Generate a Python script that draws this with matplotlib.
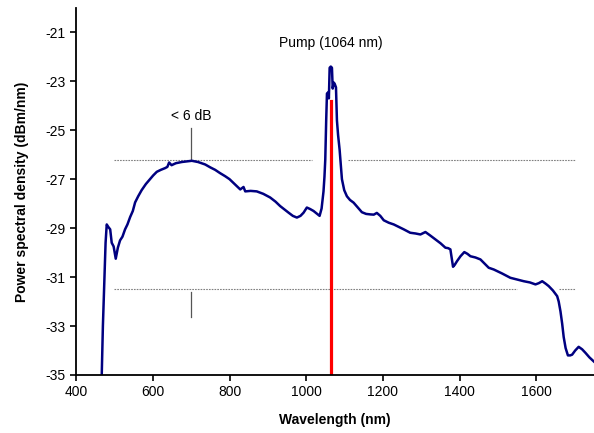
import matplotlib.pyplot as plt

plt.rcParams['font.family'] = ['Liberation Sans', 'DejaVu Sans']
plt.rcParams['axes.unicode_minus'] = False

# spectrum
wavelength = [467, 470, 474, 477, 480, 484, 489, 493, 498, 503.5, 509, 514.8, 521, 527.8, 534,
              541, 548, 554, 562, 571, 582, 593, 601, 610.5, 621, 632, 638, 642.6, 646, 649,
              660, 675.5, 690, 701.8, 718, 736.5, 750, 762.6, 775, 788.7, 800, 810, 820, 828,
              836.5, 841, 855, 871, 888, 906, 920, 932, 944, 954, 965, 975.6, 985, 993,
              1001.6, 1010, 1019, 1027, 1034.8, 1040, 1045, 1047.5, 1049.6, 1052, 1054,
              1057.6, 1059, 1061, 1064, 1067, 1069, 1071.5, 1074, 1077.5, 1080, 1083,
              1087, 1090, 1093, 1099, 1106, 1114, 1123.4, 1134, 1145, 1156, 1167, 1176,
              1184, 1193, 1202, 1215, 1228, 1241, 1254, 1271, 1285, 1297.6, 1310.6, 1323,
              1336.6, 1350, 1362.7, 1370, 1375.7, 1379, 1382.6, 1387, 1393, 1402, 1412,
              1420, 1428, 1441, 1454, 1465, 1475.6, 1488.6, 1510, 1532, 1550, 1567, 1583,
              1597.5, 1606, 1615, 1624, 1632, 1643, 1654, 1658, 1662.6, 1667, 1671, 1676,
              1682, 1688, 1693, 1701, 1710, 1719, 1728, 1738, 1749.6]
power = [-35.0, -33.0, -31.0, -29.6, -28.85, -28.95, -29.05, -29.6, -29.75, -30.25, -29.8,
         -29.5, -29.35, -29.05, -28.85, -28.55, -28.3, -27.95, -27.7, -27.45, -27.2, -27.0,
         -26.85, -26.7, -26.62, -26.55, -26.5, -26.32, -26.38, -26.43, -26.35, -26.3,
         -26.27, -26.25, -26.3, -26.4, -26.52, -26.62, -26.75, -26.88, -27.0, -27.15,
         -27.3, -27.42, -27.32, -27.5, -27.48, -27.5, -27.6, -27.75, -27.92, -28.1, -28.25,
         -28.37, -28.5, -28.57, -28.5, -28.37, -28.16, -28.22, -28.3, -28.4, -28.5, -28.2,
         -27.5, -26.9, -26.2, -24.6, -23.5, -23.45, -23.7, -22.45, -22.4, -22.45, -23.3,
         -23.05, -23.1, -23.25, -24.6, -25.2, -25.8, -26.4, -27.0, -27.45, -27.7, -27.85,
         -27.96, -28.15, -28.35, -28.42, -28.44, -28.45, -28.38, -28.5, -28.68, -28.78,
         -28.85, -28.95, -29.05, -29.19, -29.22, -29.26, -29.16, -29.3, -29.46, -29.62,
         -29.8, -29.82, -29.87, -30.2, -30.58, -30.5, -30.35, -30.15, -29.98, -30.05,
         -30.15, -30.2, -30.28, -30.45, -30.62, -30.69, -30.85, -31.03, -31.1, -31.17,
         -31.22, -31.3, -31.25, -31.17, -31.27, -31.37, -31.55, -31.78, -32.0, -32.4,
         -32.9, -33.45, -33.9, -34.2, -34.2, -34.17, -34.0, -33.85, -33.95, -34.1, -34.28,
         -34.45]

pump_wavelength = 1064
pump_top = -23.8

upper_level = -26.2
lower_level = -31.5
upper_segments = [(500, 1015), (1110, 1700)]
lower_segments = [(500, 1550), (1660, 1700)]

x_ticks = [400, 600, 800, 1000, 1200, 1400, 1600]
y_ticks = [-35, -33, -31, -29, -27, -25, -23, -21]


def main():
    fig = plt.figure(figsize=(5.94, 4.33), dpi=100)
    ax = fig.add_axes([0.128, 0.134, 0.872, 0.848])

    for start, end in upper_segments:
        ax.plot([start, end], [upper_level, upper_level], color='#808080',
                linestyle=(0, (1.5, 1)), linewidth=0.8)
    for start, end in lower_segments:
        ax.plot([start, end], [lower_level, lower_level], color='#808080',
                linestyle=(0, (1.5, 1)), linewidth=0.8)
    ax.plot([700, 700], [-24.9, upper_level], color='#555555', linewidth=0.9)
    ax.plot([700, 700], [-31.6, -32.65], color='#555555', linewidth=0.9)

    ax.plot(wavelength, power, color='#000080', linewidth=1.8)
    ax.plot([pump_wavelength, pump_wavelength], [-35, pump_top], color='#ff0000',
            linewidth=2.3)

    ax.text(700, -24.4, '< 6 dB', ha='center', va='center', fontsize=10)
    ax.text(1063, -21.45, 'Pump (1064 nm)', ha='center', va='center', fontsize=10)

    ax.set_xlim(400, 1750)
    ax.set_ylim(-35, -20)
    ax.set_xticks(x_ticks)
    ax.set_yticks(y_ticks)
    ax.tick_params(direction='out', length=4, width=1.2, labelsize=10)
    ax.spines['top'].set_visible(False)
    ax.spines['right'].set_visible(False)
    ax.spines['left'].set_linewidth(1.3)
    ax.spines['bottom'].set_linewidth(1.3)

    ax.set_xlabel('Wavelength (nm)', fontsize=10, fontweight='bold', labelpad=10)
    ax.set_ylabel('Power spectral density (dBm/nm)', fontsize=10, fontweight='bold',
                  labelpad=12)

    fig.savefig('out.png', dpi=100)


if __name__ == '__main__':
    main()
